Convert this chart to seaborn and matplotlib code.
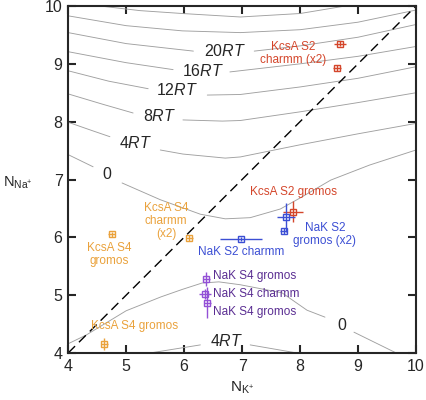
import numpy as np
import pandas as pd
import matplotlib
matplotlib.use("Agg")
import matplotlib.pyplot as plt
import seaborn as sns

# contour lines (x = N_K+, y = N_Na+); nan = gap for the label
c28_x = [4.55, 5.24, 5.97, 6.97, 8.00, 8.78]
c28_y = [10.0, 9.92, 9.87, 9.81, 9.87, 10.0]
c24_x = [4.00, 5.00, 5.97, 6.97, 8.00, 9.00, 10.0]
c24_y = [9.83, 9.66, 9.57, 9.54, 9.59, 9.72, 9.93]
c20_x = [4.00, 5.00, 6.16, np.nan, 7.21, 8.00, 9.00, 10.0]
c20_y = [9.54, 9.35, 9.22, np.nan, 9.22, 9.31, 9.46, 9.68]
c16_x = [4.00, 5.00, 5.81, np.nan, 6.79, 8.00, 9.00, 10.0]
c16_y = [9.21, 9.02, 8.90, np.nan, 8.86, 9.00, 9.13, 9.30]
c12_x = [4.00, 4.70, 5.38, np.nan, 6.40, 6.97, 8.00, 9.00, 10.0]
c12_y = [8.88, 8.70, 8.57, np.nan, 8.46, 8.47, 8.60, 8.75, 8.95]
c8_x = [4.00, 4.60, 5.12, np.nan, 5.98, 6.66, 6.97, 8.00, 9.00, 10.0]
c8_y = [8.48, 8.30, 8.15, np.nan, 8.03, 8.01, 8.02, 8.17, 8.33, 8.50]
c4_x = [4.00, 4.40, 4.72, np.nan, 5.59, 5.98, 6.71, 6.97, 8.00, 9.00, 10.0]
c4_y = [7.99, 7.85, 7.74, np.nan, 7.51, 7.44, 7.37, 7.39, 7.60, 7.79, 7.97]
c0_x = [4.00, 4.43, np.nan, 4.93, 5.59, 6.28, 6.71, 7.14, 7.66, 8.00, 8.53, 9.20, 10.0]
c0_y = [7.43, 7.22, np.nan, 6.94, 6.65, 6.40, 6.32, 6.34, 6.49, 6.68, 6.99, 7.25, 7.51]
c0_low_x = [4.00, 4.31, 5.00, 5.60, 5.97, 6.31, 6.60, 6.97, 7.69, 8.12, 8.43, np.nan, 8.93, 9.66]
c0_low_y = [4.16, 4.31, 4.73, 4.97, 5.10, 5.21, 5.23, 5.18, 5.04, 4.74, 4.62, np.nan, 4.36, 4.00]
c4_low_x = [5.41, 6.28, np.nan, 7.14, 7.95]
c4_low_y = [4.00, 4.14, np.nan, 4.14, 4.00]

contour_labels = ["20$\\mathit{RT}$", "16$\\mathit{RT}$", "12$\\mathit{RT}$", "8$\\mathit{RT}$",
                  "4$\\mathit{RT}$", "0", "4$\\mathit{RT}$", "0"]
contour_lab_x = [6.71, 6.33, 5.88, 5.57, 5.16, 4.67, 6.74, 8.72]
contour_lab_y = [9.22, 8.88, 8.55, 8.10, 7.63, 7.08, 4.21, 4.48]

# simulation points: x, y, xerr, yerr
ks2_x = [8.69, 8.64, 7.88]
ks2_y = [9.35, 8.93, 6.44]
ks2_xerr = [0.10, 0.07, 0.17]
ks2_yerr = [0.05, 0.05, 0.18]

nks2_x = [7.76, 7.72, 6.98]
nks2_y = [6.35, 6.11, 5.97]
nks2_xerr = [0.16, 0.06, 0.36]
nks2_yerr = [0.25, 0.06, 0.04]

nks4_x = [6.38, 6.36, 6.40]
nks4_y = [5.28, 5.02, 4.87]
nks4_xerr = [0.06, 0.11, 0.06]
nks4_yerr = [0.12, 0.08, 0.27]

ks4_x = [4.75, 6.09, 4.62]
ks4_y = [6.05, 5.99, 4.16]
ks4_xerr = [0.06, 0.06, 0.06]
ks4_yerr = [0.05, 0.05, 0.10]

point_labels = ["KcsA S2\ncharmm (x2)", "KcsA S2 gromos", "NaK S2\ngromos (x2)", "NaK S2 charmm",
                "NaK S4 gromos", "NaK S4 charmm", "NaK S4 gromos",
                "KcsA S4\ncharmm\n(x2)", "KcsA S4\ngromos", "KcsA S4 gromos"]
point_lab_x = [7.88, 7.88, 8.43, 6.98, 6.50, 6.50, 6.50, 5.69, 4.71, 5.14]
point_lab_y = [9.18, 6.79, 6.05, 5.75, 5.33, 5.02, 4.71, 6.28, 5.70, 4.47]

red = "#d4462b"
blue = "#3c4fd4"
purple = "#9350d6"
purple_txt = "#5a2d92"
orange = "#eaa23c"
point_lab_color = [red, red, blue, blue, purple_txt, purple_txt, purple_txt, orange, orange, orange]
point_lab_ha = ["center", "center", "center", "center", "left", "left", "left", "center", "center", "center"]

sns.set_style("ticks")
plt.rcParams["font.family"] = ["Liberation Sans", "DejaVu Sans"]
plt.rcParams["mathtext.fontset"] = "custom"
plt.rcParams["mathtext.rm"] = "Liberation Sans"
plt.rcParams["mathtext.it"] = "Liberation Sans:italic"

fig = plt.figure(figsize=(4.26, 4.0), dpi=100)
ax = fig.add_axes([0.16, 0.1175, 0.8165, 0.8675])

# contour table for seaborn
lines = [(c28_x, c28_y), (c24_x, c24_y), (c20_x, c20_y), (c16_x, c16_y), (c12_x, c12_y),
         (c8_x, c8_y), (c4_x, c4_y), (c0_x, c0_y), (c0_low_x, c0_low_y), (c4_low_x, c4_low_y)]
rows = []
seg = 0
for xs, ys in lines:
    for xv, yv in zip(xs, ys):
        if np.isnan(xv):
            seg += 1
            continue
        rows.append((xv, yv, seg))
    seg += 1
contours = pd.DataFrame(rows, columns=["x", "y", "seg"])
sns.lineplot(data=contours, x="x", y="y", units="seg", estimator=None, sort=False,
             color="#a0a0a0", linewidth=0.65, legend=False, ax=ax)

for t, xv, yv in zip(contour_labels, contour_lab_x, contour_lab_y):
    ax.text(xv, yv, t, fontsize=11.5, ha="center", va="center")

# diagonal
ax.plot([4, 10], [4, 10], color="k", linewidth=1, dashes=(7, 4))

for xs, ys, xe, ye, c in [(ks2_x, ks2_y, ks2_xerr, ks2_yerr, red),
                          (nks2_x, nks2_y, nks2_xerr, nks2_yerr, blue),
                          (nks4_x, nks4_y, nks4_xerr, nks4_yerr, purple),
                          (ks4_x, ks4_y, ks4_xerr, ks4_yerr, orange)]:
    ax.errorbar(xs, ys, xerr=xe, yerr=ye, fmt="s", ms=5, mfc="none", mec=c,
                mew=1, ecolor=c, elinewidth=1, capsize=0)

for t, xv, yv, c, ha in zip(point_labels, point_lab_x, point_lab_y, point_lab_color, point_lab_ha):
    ax.text(xv, yv, t, fontsize=8.5, color=c, ha=ha, va="center", linespacing=1.15,
            multialignment="center")

ax.set_xlim(4, 10)
ax.set_ylim(4, 10)
ax.set_xticks(range(4, 11))
ax.set_yticks(range(4, 11))
ax.tick_params(direction="in", top=True, right=True, length=6, width=1.5, labelsize=11.5, pad=4)
for s in ax.spines.values():
    s.set_linewidth(1.5)

ax.set_xlabel("$\\mathrm{N_{K^{+}}}$", fontsize=11, va="center")
ax.set_ylabel("$\\mathrm{N_{Na^{+}}}$", fontsize=10.5, rotation=0, ha="left", va="center")
ax.xaxis.set_label_coords(0.5, -0.1)
ax.yaxis.set_label_coords(-0.188, 0.49)

plt.savefig("out.png", dpi=100)
